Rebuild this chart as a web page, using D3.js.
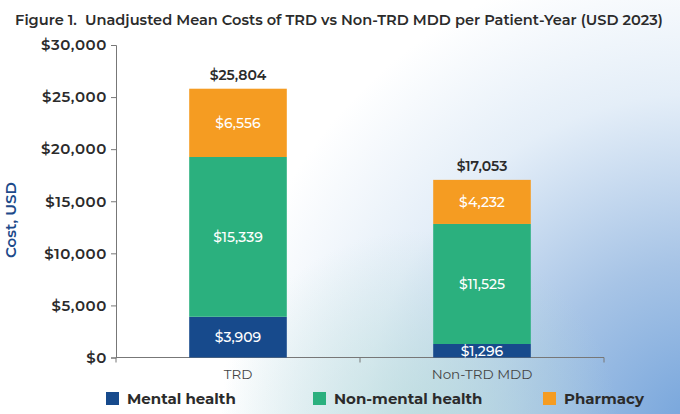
<!DOCTYPE html>
<html><head><meta charset="utf-8">
<script src="https://cdn.jsdelivr.net/npm/d3@7"></script>
<style>body{margin:0;padding:0;overflow:hidden}svg{display:block}</style>
</head><body>
<script>
const categories = ["TRD", "Non-TRD MDD"];
const seriesNames = ["Mental health", "Non-mental health", "Pharmacy"];
const mentalHealth = [3909, 1296];
const nonMentalHealth = [15339, 11525];
const pharmacy = [6556, 4232];
const totals = [25804, 17053];
const yTicks = [0, 5000, 10000, 15000, 20000, 25000, 30000];
const colors = ["#174a8c", "#2bb07e", "#f59c22"];

const W = 680, H = 414;
const svg = d3.select("body").append("svg").attr("width", W).attr("height", H);
const defs = svg.append("defs");
const g1 = defs.append("radialGradient").attr("id","bg1").attr("gradientUnits","userSpaceOnUse")
  .attr("cx",700).attr("cy",430).attr("r",480);
g1.append("stop").attr("offset","0").attr("stop-color","#73a3db");
g1.append("stop").attr("offset","0.35").attr("stop-color","#a7c4e6");
g1.append("stop").attr("offset","0.7").attr("stop-color","#e4eef8");
g1.append("stop").attr("offset","1").attr("stop-color","#ffffff");
const g2 = defs.append("radialGradient").attr("id","bg2").attr("gradientUnits","userSpaceOnUse")
  .attr("cx",420).attr("cy",430).attr("r",200);
g2.append("stop").attr("offset","0").attr("stop-color","#b7dcd8").attr("stop-opacity",0.7);
g2.append("stop").attr("offset","1").attr("stop-color","#b7dcd8").attr("stop-opacity",0);
svg.append("rect").attr("width",W).attr("height",H).attr("fill","#fff");
svg.append("rect").attr("width",W).attr("height",H).attr("fill","url(#bg1)");
svg.append("rect").attr("width",W).attr("height",H).attr("fill","url(#bg2)");

const font = "Montserrat, 'Noto Sans', 'Open Sans', sans-serif";
const x0 = 116, x1 = 604, yTop = 45, yBot = 357.5;

const x = d3.scaleBand().domain(categories).range([x0, x1]).padding(0);
const y = d3.scaleLinear().domain([0, 30000]).range([yBot, yTop]);
const fmt = v => "$" + d3.format(",")(v);

svg.append("text").attr("x", 339).attr("y", 25).attr("text-anchor","middle")
  .attr("xml:space","preserve").style("white-space","pre")
  .attr("font-family", font).attr("font-size", 14.6).attr("font-weight", 600).attr("fill","#2b2b2b")
  .text("Figure 1.  Unadjusted Mean Costs of TRD vs Non-TRD MDD per Patient-Year (USD 2023)");

// y axis
const yAxis = svg.append("g").attr("transform", `translate(${x0},0)`)
  .call(d3.axisLeft(y).tickValues(yTicks).tickFormat(fmt).tickSize(5).tickPadding(4));
yAxis.select(".domain").attr("stroke","#777");
yAxis.selectAll(".tick line").attr("stroke","#777");
yAxis.selectAll("text").attr("font-family", font).attr("font-size", 15).attr("letter-spacing", 0.6)
  .attr("font-weight", 600).attr("fill","#2b2b2b");

// x axis
const xAxis = svg.append("g").attr("transform", `translate(0,${yBot})`)
  .call(d3.axisBottom(x).tickSize(0).tickPadding(12));
xAxis.select(".domain").attr("stroke","#777").attr("d", `M${x0},0H${x1}`);
xAxis.selectAll("text").attr("font-family", font).attr("font-size", 13.5).attr("fill","#444");
xAxis.selectAll(".bnd").data([x0, x0 + x.bandwidth(), x1]).enter().append("line")
  .attr("x1", d => d).attr("x2", d => d).attr("y1", 0).attr("y2", 5).attr("stroke","#777");

const table = categories.map((c, i) => ({cat: c, "Mental health": mentalHealth[i], "Non-mental health": nonMentalHealth[i], "Pharmacy": pharmacy[i], total: totals[i]}));
const stack = d3.stack().keys(seriesNames)(table);
const barW = x.bandwidth() * 0.4;

stack.forEach((layer, li) => {
  const gg = svg.append("g");
  gg.selectAll("rect").data(layer).enter().append("rect")
    .attr("x", d => x(d.data.cat) + (x.bandwidth() - barW) / 2)
    .attr("y", d => y(d[1])).attr("width", barW).attr("height", d => y(d[0]) - y(d[1]))
    .attr("fill", colors[li]);
  gg.selectAll("text").data(layer).enter().append("text")
    .attr("x", d => x(d.data.cat) + x.bandwidth() / 2)
    .attr("y", d => (y(d[0]) + y(d[1])) / 2 + 5)
    .attr("text-anchor","middle").attr("font-family", font).attr("font-size", 14).attr("font-weight", 500)
    .attr("fill","#fff").text(d => fmt(d[1] - d[0]));
});

svg.selectAll(".tot").data(table).enter().append("text")
  .attr("x", d => x(d.cat) + x.bandwidth() / 2).attr("y", d => y(d.total) - 9)
  .attr("text-anchor","middle").attr("font-family", font).attr("font-size", 14).attr("font-weight", 600)
  .attr("fill","#2b2b2b").text(d => fmt(d.total));

// y label
svg.append("text").attr("transform","translate(16,220) rotate(-90)").attr("text-anchor","middle")
  .attr("font-family", font).attr("font-size", 15).attr("font-weight", 600).attr("fill","#1d4a8a")
  .text("Cost, USD");

// legend
const legX = [106, 313, 543];
const leg = svg.selectAll(".leg").data(seriesNames).enter().append("g")
  .attr("transform", (d, i) => `translate(${legX[i]},392)`);
leg.append("rect").attr("width", 13).attr("height", 13).attr("fill", (d, i) => colors[i]);
leg.append("text").attr("x", 21).attr("y", 12).attr("font-family", font).attr("font-size", 15)
  .attr("font-weight", 700).attr("fill","#2b2b2b").text(d => d);
</script>
</body></html>
